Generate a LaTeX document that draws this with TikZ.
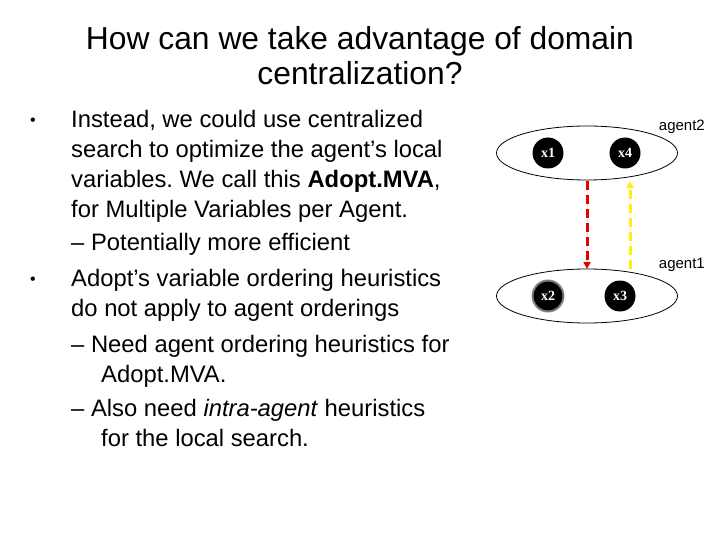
\documentclass[tikz,border=0pt]{standalone}
\usepackage{fontspec}
\setmainfont{Liberation Sans}
\newfontfamily\serifvar{Liberation Serif}
\usetikzlibrary{shapes.geometric,arrows.meta}
\begin{document}
\begin{tikzpicture}[x=1pt,y=-1pt,
  txt/.style={anchor=base west,inner sep=0,font=\fontsize{23.8}{28}\selectfont},
  agent/.style={draw,thick,ellipse,minimum width=181,minimum height=54,inner sep=0},
  var/.style={circle,fill=black,text=white,minimum size=31,inner sep=0,font=\fontsize{14}{16}\serifvar\bfseries},
  lbl/.style={anchor=base east,inner sep=0,font=\fontsize{15}{18}\selectfont},
  link/.style={line width=3pt,dash pattern=on 9pt off 5pt,-{Triangle[length=7pt,width=7pt]}}]
\useasboundingbox (0,0) rectangle (720,540);
\node[inner sep=0,align=center,font=\fontsize{31.8}{35}\selectfont] (title) at (360,56) {How can we take advantage of domain\\centralization?};
\node[txt,font=\fontsize{16}{18}\selectfont] (b1) at (30,126) {•};
\node[txt] (t1) at (71,128) {Instead, we could use centralized};
\node[txt] (t2) at (71,158) {search to optimize the agent’s local};
\node[txt] (t3) at (71,188) {variables.\ We call this \textbf{Adopt.MVA},};
\node[txt] (t4) at (71,218) {for Multiple Variables per Agent.};
\node[txt] (t5) at (71,250) {– Potentially more efficient};
\node[txt,font=\fontsize{16}{18}\selectfont] (b2) at (30,284) {•};
\node[txt] (t6) at (71,286) {Adopt’s variable ordering heuristics};
\node[txt] (t7) at (71,316) {do not apply to agent orderings};
\node[txt] (t8) at (71,352) {– Need agent ordering heuristics for};
\node[txt] (t9) at (101,382) {Adopt.MVA.};
\node[txt] (t10) at (71,416) {– Also need \textit{intra-agent} heuristics};
\node[txt] (t11) at (101,446) {for the local search.};
\node[agent] (a2) at (587,153) {};
\node[agent] (a1) at (587,296) {};
\node[var] (x1) at (548,153) {x1};
\node[var] (x4) at (625,153) {x4};
\node[var,draw=gray,line width=2pt] (x2) at (548,296) {x2};
\node[var] (x3) at (620,296) {x3};
\node[lbl] (l2) at (705,131) {agent2};
\node[lbl] (l1) at (705,268) {agent1};
\coordinate (rs) at (587,181);
\coordinate (re) at (587,269);
\coordinate (ys) at (630,269);
\coordinate (ye) at (630,181);
\draw[link,draw=red!90!black,fill=red!90!black] (rs) -- (re);
\draw[link,draw=yellow,fill=yellow] (ys) -- (ye);
\end{tikzpicture}
\end{document}
